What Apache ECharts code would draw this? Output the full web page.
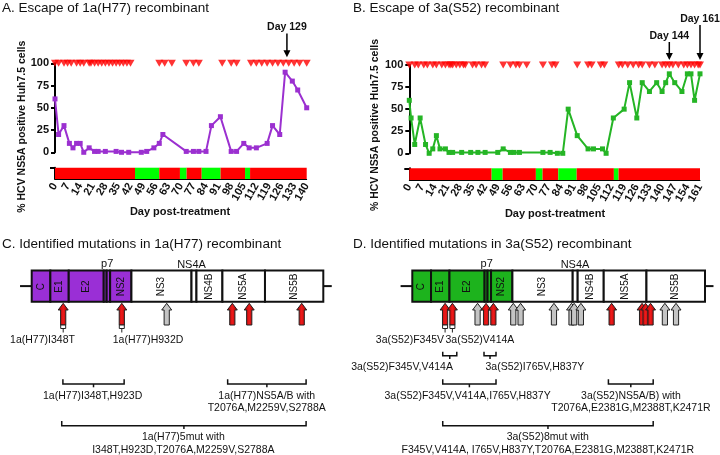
<!DOCTYPE html>
<html><head><meta charset="utf-8">
<script src="https://cdn.jsdelivr.net/npm/echarts@6/dist/echarts.min.js"></script>
<style>html,body{margin:0;padding:0;background:#fff}#c{width:720px;height:455px}</style>
</head><body><div id="c"></div>
<script>
// ================= DATA =================
// Panel A: 1a(H77)
const daysA   = [0,2,5,8,10,12,14,16,19,22,24,28,34,37,41,48,51,55,58,60,73,77,80,84,87,92,98,101,105,108,112,118,121,125,128,132,135,140];
const valuesA = [60,20,30,10,5,10,10,0,5,1,1,1,1,0,0,0,1,5,10,20,1,1,1,1,30,40,1,1,10,5,5,10,30,20,90,80,70,50];
const treatDaysA = [0,2,5,7,9,12,14,16,19,20,22,24,26,28,30,32,34,36,38,40,42,58,61,65,73,77,80,93,98,101,109,112,115,118,121,124,127,130,133,136,140];
const periodStartA = [0,44.5,58,69.5,73.2,81.6,92.1,105.7,108.5];
const periodEndA   = [44.5,58,69.5,73.2,81.6,92.1,105.7,108.5,140];
const periodOnA    = [1,0,1,0,1,0,1,0,1];
const annDaysA = [129];
const annTextA = ['Day 129'];
const xMaxA = 140;

// Panel B: 3a(S52)
const daysB   = [0,1,3,6,9,11,13,15,17,20,22,24,29,34,38,42,49,52,56,58,61,74,78,82,85,88,93,99,102,107,109,113,119,122,126,129,133,137,140,142,144,147,151,154,156,158,161];
const valuesB = [60,40,10,40,10,0,5,20,5,5,1,1,1,1,1,1,1,5,1,1,1,1,1,0,0,50,20,5,5,5,0,40,50,80,40,80,70,80,70,80,90,80,70,90,90,60,90];
const treatDaysB = [0,3,5,8,10,13,15,18,20,22,23,24,26,28,30,31,35,37,40,42,52,56,59,61,65,74,79,81,93,99,101,106,108,116,118,121,124,127,129,133,136,140,142,144,146,149,152,154,156,158,160,161];
const periodStartB = [0,45.6,51.7,70.1,73.8,82.5,92.7,113.3,115.9];
const periodEndB   = [45.6,51.7,70.1,73.8,82.5,92.7,113.3,115.9,161];
const periodOnB    = [1,0,1,0,1,0,1,0,1];
const annDaysB = [144,161];
const annTextB = ['Day 144','Day 161'];
const xMaxB = 161;

// Genome map (relative position along polyprotein, 0-100)
const genomeBounds = [0,6.4,12.7,24.7,25.7,26.9,34.2,54.8,56.5,65.4,80.0,100];
const genomeNames  = ['C','E1','E2','','','NS2','NS3','','NS4B','NS5A','NS5B'];
const structuralCount = 6;
const topNames = ['p7','NS4A'];
const topPosC = [25.9,54.8];
const topPosD = [25.4,55.6];

// Panel C mutations
const mutPosC    = [10.8,30.9,46.3,68.8,74.6,92.6];
const mutKindC   = ['red','red','grey','red','red','red'];
const mutTestedC = [1,1,0,0,0,0];
const brFromC = [10.7,67.2,10.3];
const brToC   = [31.7,94.1,94.1];
const brTierC = [1,1,2];
const labelsC   = ['1a(H77)I348T','1a(H77)H932D','1a(H77)I348T,H923D','1a(H77)NS5A/B with','T2076A,M2259V,S2788A','1a(H77)5mut with','I348T,H923D,T2076A,M2259V,S2788A'];
const labelPosC = [3.7,39.9,20.9,80.6,80.6,52,52];
const labelRowC = [0,0,2,2,3,4,5];

// Panel D mutations
const mutPosD    = [11.2,13.7,22.3,25.2,27.7,34.5,37.0,48.4,54.4,55.3,57.6,68.1,78.5,79.7,81.4,86.3,90.1];
const mutKindD   = ['red','red','grey','red','red','grey','grey','grey','grey','grey','grey','red','red','red','red','grey','grey'];
const mutTestedD = [1,1,0,0,0,0,0,0,0,0,0,0,0,0,0,0,0];
const brFromD = [10.4,24.5,10.4,67.0,10.4];
const brToD   = [15.2,28.6,28.6,82.3,82.3];
const brTierD = [0,0,1,1,2];
const labelsD   = ['3a(S52)F345V','3a(S52)V414A','3a(S52)F345V,V414A','3a(S52)I765V,H837Y','3a(S52)F345V,V414A,I765V,H837Y','3a(S52)NS5A/B) with','T2076A,E2381G,M2388T,K2471R','3a(S52)8mut with','F345V,V414A, I765V,H837Y,T2076A,E2381G,M2388T,K2471R'];
const labelPosD = [-0.8,23.1,-3.5,41.9,18.9,74.7,74.7,46.3,46.3];
const labelRowD = [0,0,1,1,2,2,3,4,5];

// ================= STYLE / LAYOUT =================
const FONT = 'Liberation Sans, Arial, sans-serif';
const INK = '#111';
const PURPLE = '#9b30d0';
const GREEN = '#25b525';
const ROW_Y = [85.5,112.3,140.7,153.3,181.7,195];
const TIER_Y = [[96.7,100.7,104],[124.3,129,132.3],[166,170.7,174]];
const BOX_T = 15.5, BOX_B = 46.7, BOX_M = 31.1;
const ARR_T = 48.3, ARR_B = 70;

const chart = echarts.init(document.getElementById('c'), null, {renderer:'canvas', width:720, height:455});

function mainX(g, max){ return {type:'value', gridIndex:g, min:0, max:max, show:false}; }
function stripX(g, max){ return {type:'value', gridIndex:g, min:0, max:max, interval:7,
  axisLine:{show:true, onZero:false, lineStyle:{color:'#000', width:1}}, axisTick:{show:false}, splitLine:{show:false},
  axisLabel:{rotate:60, margin:5, fontSize:11, fontWeight:'bold', color:INK, fontFamily:FONT, hideOverlap:false}}; }
function mainY(g){ return {type:'value', gridIndex:g, min:0, max:100, interval:25,
  axisLine:{show:true, lineStyle:{color:'#000', width:2}}, axisTick:{show:true, length:4, lineStyle:{color:'#000', width:2}},
  splitLine:{show:false}, axisLabel:{margin:6, fontSize:11, fontWeight:'bold', color:INK, fontFamily:FONT}}; }
function stripY(g){ return {type:'value', gridIndex:g, min:0, max:1,
  axisLine:{show:true, lineStyle:{color:'#000', width:2}}, axisTick:{show:true, customValues:[1], length:5, lineStyle:{color:'#000', width:2}},
  axisLabel:{show:false}, splitLine:{show:false}}; }
function diagX(g){ return {type:'value', gridIndex:g, min:0, max:100, show:false}; }
function diagY(g){ return {type:'value', gridIndex:g, min:0, max:200, inverse:true, show:false}; }

function lineSeries(xi, days, vals, color){
  return {type:'line', xAxisIndex:xi, yAxisIndex:xi, data:days.map((d,i)=>[d, vals[i]]), clip:false,
    symbol:'rect', symbolSize:5, itemStyle:{color:color}, lineStyle:{color:color, width:2}, z:3};
}
function treatSeries(xi, days){
  return {type:'scatter', xAxisIndex:xi, yAxisIndex:xi, data:days.map(d=>[d,100]), clip:false,
    symbol:'triangle', symbolRotate:180, symbolSize:[8,7], itemStyle:{color:'#ff0000'}, z:4};
}
function stripSeries(xi, starts, ends, on){
  return {type:'custom', xAxisIndex:xi, yAxisIndex:xi, data:starts.map((s,i)=>[s, ends[i], on[i]]),
    renderItem:(params, api)=>{
      const p0 = api.coord([api.value(0),1]), p1 = api.coord([api.value(1),0]);
      return {type:'rect', shape:{x:p0[0], y:p0[1], width:p1[0]-p0[0], height:p1[1]-p0[1]},
        style:{fill: api.value(2)===1 ? '#ff0000' : '#00ff00'}};
    }, z:1};
}
function annSeries(xi, days, texts, lifts, tipGap){
  return {type:'custom', xAxisIndex:xi, yAxisIndex:xi, data:days.map(d=>[d,100]), clip:false,
    renderItem:(params, api)=>{
      const p = api.coord([api.value(0),100]);
      const x = p[0], tip = p[1]-tipGap, ty = p[1]-lifts[params.dataIndex];
      return {type:'group', children:[
        {type:'line', shape:{x1:x, y1:ty+6, x2:x, y2:tip-6}, style:{stroke:'#000', lineWidth:1.5}},
        {type:'polygon', shape:{points:[[x-3.5,tip-7],[x+3.5,tip-7],[x,tip]]}, style:{fill:'#000'}},
        {type:'text', x:x, y:ty, style:{text:texts[params.dataIndex], font:'bold 10.5px '+FONT, fill:INK, align:'center', verticalAlign:'middle'}}
      ]};
    }, z:5};
}
function genomeSeries(xi, fill){
  return {type:'custom', xAxisIndex:xi, yAxisIndex:xi, data:genomeNames.map((n,i)=>[genomeBounds[i], genomeBounds[i+1]]),
    renderItem:(params, api)=>{
      const i = params.dataIndex;
      const a = api.coord([api.value(0), BOX_T]), b = api.coord([api.value(1), BOX_B]);
      const ch = [{type:'rect', shape:{x:a[0], y:a[1], width:b[0]-a[0], height:b[1]-a[1]},
        style:{fill: i<structuralCount ? fill : '#fff', stroke:'#111', lineWidth:2}}];
      if (genomeNames[i]) ch.push({type:'text', x:(a[0]+b[0])/2, y:(a[1]+b[1])/2+0.5, rotation:Math.PI/2,
        style:{text:genomeNames[i], font:'10px '+FONT, fill:INK, align:'center', verticalAlign:'middle'}});
      return {type:'group', children:ch};
    }, z:2};
}
function stubSeries(xi){
  return {type:'custom', xAxisIndex:xi, yAxisIndex:xi, data:[[-4,0],[100,102.9]],
    renderItem:(params, api)=>{
      const a = api.coord([api.value(0), BOX_M]), b = api.coord([api.value(1), BOX_M]);
      return {type:'line', shape:{x1:a[0], y1:a[1], x2:b[0], y2:b[1]}, style:{stroke:'#111', lineWidth:2}};
    }, z:1};
}
function topLabelSeries(xi, pos){
  return {type:'custom', xAxisIndex:xi, yAxisIndex:xi, data:pos.map((p,i)=>[p, i]),
    renderItem:(params, api)=>{
      const i = params.dataIndex;
      const a = api.coord([api.value(0), i===0 ? 8.5 : 10]);
      return {type:'text', x:a[0], y:a[1], style:{text:topNames[i], font:'11px '+FONT, fill:INK, align:'center', verticalAlign:'middle'}};
    }, z:3};
}
function arrowSeries(xi, pos, kinds, tested){
  return {type:'custom', xAxisIndex:xi, yAxisIndex:xi, data:pos.map((p,i)=>[p, i]),
    renderItem:(params, api)=>{
      const i = params.dataIndex;
      const t = api.coord([api.value(0), ARR_T]), b = api.coord([api.value(0), ARR_B]);
      const cx = t[0], yT = t[1], yB = b[1], hh = 6.7;
      const fill = kinds[i]==='red'
        ? new echarts.graphic.LinearGradient(0,0,1,0,[{offset:0,color:'#a00000'},{offset:0.5,color:'#ee1a1a'},{offset:1,color:'#a00000'}])
        : '#c4c4c4';
      const ch = [{type:'polygon', shape:{points:[[cx,yT],[cx+5,yT+hh],[cx+2.6,yT+hh],[cx+2.6,yB],[cx-2.6,yB],[cx-2.6,yT+hh],[cx-5,yT+hh]]},
        style:{fill:fill, stroke:'#222', lineWidth:1}}];
      if (tested[i]) {
        ch.push({type:'rect', shape:{x:cx-2.5, y:yB, width:5, height:3.5}, style:{fill:'#fff', stroke:'#222', lineWidth:1}});
        ch.push({type:'line', shape:{x1:cx, y1:yB+3.5, x2:cx, y2:yB+7.5}, style:{stroke:'#222', lineWidth:1}});
      }
      return {type:'group', children:ch};
    }, z:3};
}
function bracketSeries(xi, from, to, tier){
  return {type:'custom', xAxisIndex:xi, yAxisIndex:xi, data:from.map((f,i)=>[f, to[i], tier[i]]),
    renderItem:(params, api)=>{
      const ty = TIER_Y[api.value(2)];
      const x1 = api.value(0), x2 = api.value(1), xm = (x1+x2)/2;
      const p1 = api.coord([x1, ty[0]]), p2 = api.coord([x1, ty[1]]), p3 = api.coord([x2, ty[1]]), p4 = api.coord([x2, ty[0]]);
      const m1 = api.coord([xm, ty[1]]), m2 = api.coord([xm, ty[2]]);
      return {type:'group', children:[
        {type:'polyline', shape:{points:[p1,p2,p3,p4]}, style:{stroke:'#111', lineWidth:1.5, fill:null}},
        {type:'line', shape:{x1:m1[0], y1:m1[1], x2:m2[0], y2:m2[1]}, style:{stroke:'#111', lineWidth:1.5}}
      ]};
    }, z:3};
}
function labelSeries(xi, texts, pos, rows){
  return {type:'custom', xAxisIndex:xi, yAxisIndex:xi, data:pos.map((p,i)=>[p, rows[i]]),
    renderItem:(params, api)=>{
      const a = api.coord([api.value(0), ROW_Y[api.value(1)]]);
      return {type:'text', x:a[0], y:a[1], style:{text:texts[params.dataIndex], font:'10.5px '+FONT, fill:INK, align:'center', verticalAlign:'middle'}};
    }, z:3};
}

function txt(x, y, text, font, rot, align){
  return {type:'text', x:x, y:y, rotation:rot||0,
    style:{text:text, font:font, fill:INK, align:align||'left', verticalAlign:'middle'}};
}

const option = {
  animation:false,
  backgroundColor:'#fff',
  grid:[
    {left:55, top:63.3, width:251.7, height:89, outerBoundsMode:'none'},
    {left:55, top:167.7, width:251.7, height:11.3, outerBoundsMode:'none'},
    {left:409.3, top:65, width:290.7, height:88.3, outerBoundsMode:'none'},
    {left:409.3, top:168.3, width:290.7, height:11.7, outerBoundsMode:'none'},
    {left:31.7, top:255, width:291.6, height:200, outerBoundsMode:'none'},
    {left:412.3, top:255, width:292.7, height:200, outerBoundsMode:'none'}
  ],
  xAxis:[mainX(0,xMaxA), stripX(1,xMaxA), mainX(2,xMaxB), stripX(3,xMaxB), diagX(4), diagX(5)],
  yAxis:[mainY(0), stripY(1), mainY(2), stripY(3), diagY(4), diagY(5)],
  graphic:[
    txt(2, 8, 'A. Escape of 1a(H77) recombinant', '13.5px '+FONT),
    txt(353, 8, 'B. Escape of 3a(S52) recombinant', '13.5px '+FONT),
    txt(2, 244, 'C. Identified mutations in 1a(H77) recombinant', '13.5px '+FONT),
    txt(353, 244, 'D. Identified mutations in 3a(S52) recombinant', '13.5px '+FONT),
    txt(22.5, 126.7, '% HCV NS5A positive Huh7.5 cells', 'bold 10.5px '+FONT, Math.PI/2, 'center'),
    txt(375.5, 125, '% HCV NS5A positive Huh7.5 cells', 'bold 10.5px '+FONT, Math.PI/2, 'center'),
    txt(180, 212.3, 'Day post-treatment', 'bold 11px '+FONT, 0, 'center'),
    txt(555, 214, 'Day post-treatment', 'bold 11px '+FONT, 0, 'center')
  ],
  series:[
    lineSeries(0, daysA, valuesA, PURPLE),
    treatSeries(0, treatDaysA),
    annSeries(0, annDaysA, annTextA, [35.8], 6),
    stripSeries(1, periodStartA, periodEndA, periodOnA),
    lineSeries(2, daysB, valuesB, GREEN),
    treatSeries(2, treatDaysB),
    annSeries(2, annDaysB, annTextB, [29,46], 5),
    stripSeries(3, periodStartB, periodEndB, periodOnB),
    stubSeries(4), genomeSeries(4, '#9a2fd6'), topLabelSeries(4, topPosC),
    arrowSeries(4, mutPosC, mutKindC, mutTestedC), bracketSeries(4, brFromC, brToC, brTierC), labelSeries(4, labelsC, labelPosC, labelRowC),
    stubSeries(5), genomeSeries(5, '#1db31d'), topLabelSeries(5, topPosD),
    arrowSeries(5, mutPosD, mutKindD, mutTestedD), bracketSeries(5, brFromD, brToD, brTierD), labelSeries(5, labelsD, labelPosD, labelRowD)
  ]
};
chart.setOption(option);
</script></body></html>
